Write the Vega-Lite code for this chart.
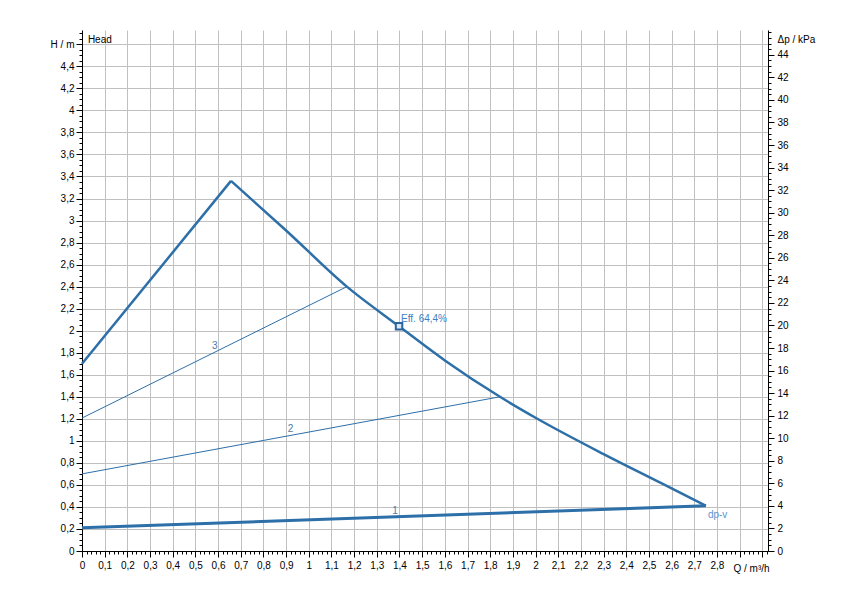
{
  "$schema": "https://vega.github.io/schema/vega-lite/v6.json",
  "width": 686,
  "height": 521,
  "autosize": {"type": "none"},
  "padding": {"left": 82, "top": 30, "right": 82, "bottom": 49},
  "background": "white",
  "config": {
    "view": {"stroke": null},
    "axis": {
      "labelFont": "Liberation Sans",
      "labelFontSize": 10,
      "labelColor": "black",
      "domainColor": "black",
      "tickColor": "black",
      "titleFont": "Liberation Sans",
      "titleFontSize": 10,
      "titleFontWeight": "normal",
      "titleColor": "black",
      "gridColor": "#c0c0c0",
      "gridOpacity": 1,
      "labelFlush": false,
      "labelOverlap": false
    }
  },
  "datasets": {
    "rise": [
      {"q": 0, "h": 1.70},
      {"q": 0.657, "h": 3.36}
    ],
    "fall": [
      {"q": 0.657, "h": 3.36},
      {"q": 0.9, "h": 2.91},
      {"q": 1.168, "h": 2.40},
      {"q": 1.398, "h": 2.04},
      {"q": 1.6, "h": 1.73},
      {"q": 1.843, "h": 1.40},
      {"q": 2.0, "h": 1.21},
      {"q": 2.3, "h": 0.88},
      {"q": 2.55, "h": 0.62},
      {"q": 2.751, "h": 0.41}
    ],
    "line1": [
      {"q": 0, "h": 0.21},
      {"q": 2.751, "h": 0.41}
    ],
    "thin": [
      {"s": "2", "q": 0, "h": 0.70},
      {"s": "2", "q": 1.843, "h": 1.40},
      {"s": "3", "q": 0, "h": 1.207},
      {"s": "3", "q": 1.168, "h": 2.40}
    ],
    "nums": [
      {"q": 1.38, "h": 0.36, "t": "1"},
      {"q": 0.92, "h": 1.107, "t": "2"},
      {"q": 0.586, "h": 1.86, "t": "3"}
    ],
    "eff": [{"q": 1.398, "h": 2.04, "t": "Eff.  64,4%"}],
    "dpv": [{"q": 2.76, "h": 0.33, "t": "dp-v"}],
    "head": [{"q": 0.026, "h": 4.635, "t": "Head"}],
    "kpa": [{"kpa": 0}]
  },
  "resolve": {"scale": {"y": "independent"}, "axis": {"x": "independent", "y": "independent"}},
  "layer": [
    {
      "data": {"name": "rise"},
      "mark": {"type": "line", "color": "#2d6fa8", "strokeWidth": 2.5, "clip": false},
      "encoding": {
        "x": {
          "field": "q", "type": "quantitative",
          "scale": {"domain": [0, 3.025], "nice": false, "zero": false},
          "axis": {
            "orient": "bottom",
            "values": [0,0.1,0.2,0.3,0.4,0.5,0.6,0.7,0.8,0.9,1,1.1,1.2,1.3,1.4,1.5,1.6,1.7,1.8,1.9,2,2.1,2.2,2.3,2.4,2.5,2.6,2.7,2.8,2.9,3],
            "grid": true,
            "tickSize": 6,
            "labelPadding": 3,
            "labelExpr": "datum.value > 2.85 ? '' : replace(format(datum.value, '.1~f'), '.', ',')",
            "title": "Q / m³/h",
            "titleX": 651,
            "titleY": 17,
            "titleAlign": "left",
            "titleBaseline": "middle",
            "titleAngle": 0
          }
        },
        "y": {
          "field": "h", "type": "quantitative",
          "scale": {"domain": [0, 4.73], "nice": false, "zero": false},
          "axis": {
            "orient": "left",
            "values": [0,0.2,0.4,0.6,0.8,1,1.2,1.4,1.6,1.8,2,2.2,2.4,2.6,2.8,3,3.2,3.4,3.6,3.8,4,4.2,4.4,4.6],
            "grid": true,
            "tickSize": 6,
            "labelPadding": 2,
            "labelExpr": "datum.value > 4.5 ? 'H / m' : replace(format(datum.value, '.1~f'), '.', ',')",
            "title": null
          }
        }
      }
    },
    {
      "data": {"name": "fall"},
      "mark": {"type": "point", "opacity": 0},
      "encoding": {
        "x": {
          "field": "q", "type": "quantitative",
          "scale": {"domain": [0, 3.025], "nice": false, "zero": false},
          "axis": {
            "orient": "bottom",
            "values": [0,0.02,0.04,0.06,0.08,0.1,0.12,0.14,0.16,0.18,0.2,0.22,0.24,0.26,0.28,0.3,0.32,0.34,0.36,0.38,0.4,0.42,0.44,0.46,0.48,0.5,0.52,0.54,0.56,0.58,0.6,0.62,0.64,0.66,0.68,0.7,0.72,0.74,0.76,0.78,0.8,0.82,0.84,0.86,0.88,0.9,0.92,0.94,0.96,0.98,1,1.02,1.04,1.06,1.08,1.1,1.12,1.14,1.16,1.18,1.2,1.22,1.24,1.26,1.28,1.3,1.32,1.34,1.36,1.38,1.4,1.42,1.44,1.46,1.48,1.5,1.52,1.54,1.56,1.58,1.6,1.62,1.64,1.66,1.68,1.7,1.72,1.74,1.76,1.78,1.8,1.82,1.84,1.86,1.88,1.9,1.92,1.94,1.96,1.98,2,2.02,2.04,2.06,2.08,2.1,2.12,2.14,2.16,2.18,2.2,2.22,2.24,2.26,2.28,2.3,2.32,2.34,2.36,2.38,2.4,2.42,2.44,2.46,2.48,2.5,2.52,2.54,2.56,2.58,2.6,2.62,2.64,2.66,2.68,2.7,2.72,2.74,2.76,2.78,2.8,2.82,2.84,2.86,2.88,2.9,2.92,2.94,2.96,2.98,3,3.02],
            "grid": false, "domain": false, "labels": false, "tickSize": 3, "title": null
          }
        },
        "y": {
          "field": "h", "type": "quantitative",
          "scale": {"domain": [0, 4.73], "nice": false, "zero": false},
          "axis": {
            "orient": "left",
            "values": [0,0.05,0.1,0.15,0.2,0.25,0.3,0.35,0.4,0.45,0.5,0.55,0.6,0.65,0.7,0.75,0.8,0.85,0.9,0.95,1,1.05,1.1,1.15,1.2,1.25,1.3,1.35,1.4,1.45,1.5,1.55,1.6,1.65,1.7,1.75,1.8,1.85,1.9,1.95,2,2.05,2.1,2.15,2.2,2.25,2.3,2.35,2.4,2.45,2.5,2.55,2.6,2.65,2.7,2.75,2.8,2.85,2.9,2.95,3,3.05,3.1,3.15,3.2,3.25,3.3,3.35,3.4,3.45,3.5,3.55,3.6,3.65,3.7,3.75,3.8,3.85,3.9,3.95,4,4.05,4.1,4.15,4.2,4.25,4.3,4.35,4.4,4.45,4.5,4.55,4.6,4.65,4.7],
            "grid": false, "domain": false, "labels": false, "tickSize": 3, "title": null
          }
        }
      }
    },
    {
      "data": {"name": "kpa"},
      "mark": {"type": "point", "opacity": 0},
      "encoding": {
        "y": {
          "field": "kpa", "type": "quantitative",
          "scale": {"domain": [0, 46.2], "nice": false, "zero": false},
          "axis": {
            "orient": "right",
            "values": [0,2,4,6,8,10,12,14,16,18,20,22,24,26,28,30,32,34,36,38,40,42,44],
            "grid": false,
            "tickSize": 6,
            "labelPadding": 3,
            "title": "Δp / kPa",
            "titleAngle": 0,
            "titleX": 9,
            "titleY": 9,
            "titleAlign": "left",
            "titleBaseline": "middle"
          }
        }
      }
    },
    {
      "data": {"name": "kpa"},
      "mark": {"type": "point", "opacity": 0},
      "encoding": {
        "y": {
          "field": "kpa", "type": "quantitative",
          "scale": {"domain": [0, 46.2], "nice": false, "zero": false},
          "axis": {
            "orient": "right",
            "values": [0,0.5,1,1.5,2,2.5,3,3.5,4,4.5,5,5.5,6,6.5,7,7.5,8,8.5,9,9.5,10,10.5,11,11.5,12,12.5,13,13.5,14,14.5,15,15.5,16,16.5,17,17.5,18,18.5,19,19.5,20,20.5,21,21.5,22,22.5,23,23.5,24,24.5,25,25.5,26,26.5,27,27.5,28,28.5,29,29.5,30,30.5,31,31.5,32,32.5,33,33.5,34,34.5,35,35.5,36,36.5,37,37.5,38,38.5,39,39.5,40,40.5,41,41.5,42,42.5,43,43.5,44,44.5,45,45.5,46],
            "grid": false, "domain": false, "labels": false, "tickSize": 3, "title": null
          }
        }
      }
    },
    {
      "data": {"name": "fall"},
      "mark": {"type": "line", "color": "#2d6fa8", "strokeWidth": 2.5, "interpolate": "monotone"},
      "encoding": {
        "x": {"field": "q", "type": "quantitative", "scale": {"domain": [0, 3.025], "nice": false, "zero": false}, "axis": null},
        "y": {"field": "h", "type": "quantitative", "scale": {"domain": [0, 4.73], "nice": false, "zero": false}, "axis": null}
      }
    },
    {
      "data": {"name": "thin"},
      "mark": {"type": "line", "color": "#2d6fa8", "strokeWidth": 1},
      "encoding": {
        "x": {"field": "q", "type": "quantitative", "scale": {"domain": [0, 3.025], "nice": false, "zero": false}, "axis": null},
        "y": {"field": "h", "type": "quantitative", "scale": {"domain": [0, 4.73], "nice": false, "zero": false}, "axis": null},
        "detail": {"field": "s", "type": "nominal"}
      }
    },
    {
      "data": {"name": "line1"},
      "mark": {"type": "line", "color": "#2d6fa8", "strokeWidth": 3},
      "encoding": {
        "x": {"field": "q", "type": "quantitative", "scale": {"domain": [0, 3.025], "nice": false, "zero": false}, "axis": null},
        "y": {"field": "h", "type": "quantitative", "scale": {"domain": [0, 4.73], "nice": false, "zero": false}, "axis": null}
      }
    },
    {
      "data": {"name": "eff"},
      "mark": {"type": "point", "shape": "square", "size": 42, "filled": false, "stroke": "#2a64a0", "strokeWidth": 2, "fill": "#dce6f0", "fillOpacity": 1},
      "encoding": {
        "x": {"field": "q", "type": "quantitative", "scale": {"domain": [0, 3.025], "nice": false, "zero": false}, "axis": null},
        "y": {"field": "h", "type": "quantitative", "scale": {"domain": [0, 4.73], "nice": false, "zero": false}, "axis": null}
      }
    },
    {
      "data": {"name": "eff"},
      "mark": {"type": "text", "align": "left", "baseline": "middle", "dx": 2, "dy": -7, "font": "Liberation Sans", "fontSize": 10, "color": "#3d7fc4"},
      "encoding": {
        "x": {"field": "q", "type": "quantitative", "scale": {"domain": [0, 3.025], "nice": false, "zero": false}, "axis": null},
        "y": {"field": "h", "type": "quantitative", "scale": {"domain": [0, 4.73], "nice": false, "zero": false}, "axis": null},
        "text": {"field": "t"}
      }
    },
    {
      "data": {"name": "dpv"},
      "mark": {"type": "text", "align": "left", "baseline": "middle", "font": "Liberation Sans", "fontSize": 10, "color": "#5b93cc"},
      "encoding": {
        "x": {"field": "q", "type": "quantitative", "scale": {"domain": [0, 3.025], "nice": false, "zero": false}, "axis": null},
        "y": {"field": "h", "type": "quantitative", "scale": {"domain": [0, 4.73], "nice": false, "zero": false}, "axis": null},
        "text": {"field": "t"}
      }
    },
    {
      "data": {"name": "nums"},
      "mark": {"type": "text", "align": "center", "baseline": "middle", "font": "Liberation Sans", "fontSize": 10, "color": "#4f79a8"},
      "encoding": {
        "x": {"field": "q", "type": "quantitative", "scale": {"domain": [0, 3.025], "nice": false, "zero": false}, "axis": null},
        "y": {"field": "h", "type": "quantitative", "scale": {"domain": [0, 4.73], "nice": false, "zero": false}, "axis": null},
        "text": {"field": "t"}
      }
    },
    {
      "data": {"name": "head"},
      "mark": {"type": "text", "align": "left", "baseline": "middle", "font": "Liberation Sans", "fontSize": 10, "color": "black"},
      "encoding": {
        "x": {"field": "q", "type": "quantitative", "scale": {"domain": [0, 3.025], "nice": false, "zero": false}, "axis": null},
        "y": {"field": "h", "type": "quantitative", "scale": {"domain": [0, 4.73], "nice": false, "zero": false}, "axis": null},
        "text": {"field": "t"}
      }
    }
  ]
}
